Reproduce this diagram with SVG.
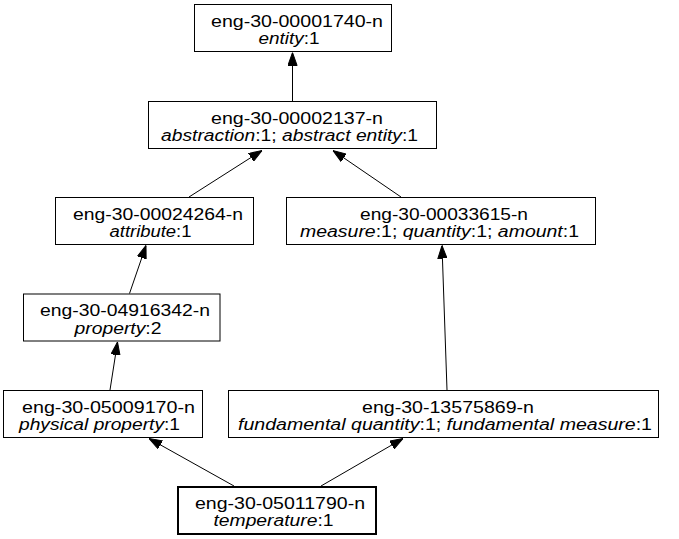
<svg xmlns="http://www.w3.org/2000/svg" width="679" height="539" viewBox="0 0 679 539">
  <style>
    .box { fill: #ffffff; stroke: #000000; stroke-width: 1; }
    .focus { stroke-width: 2; }
    text { font-family: "Liberation Sans", Arial, sans-serif; font-size: 16px; fill: #000000; text-anchor: middle; }
    .it { font-style: italic; }
    .edge { fill: none; stroke: #000000; stroke-width: 1; marker-end: url(#arrow); }
  </style>
  <defs>
    <marker id="arrow" markerUnits="userSpaceOnUse" viewBox="0 0 13 10" refX="13" refY="5" markerWidth="13" markerHeight="10" orient="auto">
      <path d="M0,0.4 L13,5 L0,9.6 Z" fill="#000000" stroke="#000000" stroke-width="1"/>
    </marker>
  </defs>

  <rect width="679" height="539" fill="#ffffff"/>

  <!-- hypernym links: each edge points from a synset to its parent -->
  <g id="edges">
    <path class="edge" d="M292.5,101 L292.5,52.5"/>
    <path class="edge" d="M189,197 L262,150.5"/>
    <path class="edge" d="M401,197 L333,150.5"/>
    <path class="edge" d="M129.5,293.5 L146,245.5"/>
    <path class="edge" d="M110,390 L117.5,342"/>
    <path class="edge" d="M447,390 L442,245.5"/>
    <path class="edge" d="M234,486 L149,438.5"/>
    <path class="edge" d="M321,486 L403,438.5"/>
  </g>

  <g id="n00001740">
    <rect class="box" x="194.5" y="4.5" width="197" height="47"/>
    <text x="297" y="26.5" textLength="172" lengthAdjust="spacingAndGlyphs">eng-30-00001740-n</text>
    <text x="289" y="44" textLength="61" lengthAdjust="spacingAndGlyphs"><tspan class="it">entity</tspan>:1</text>
  </g>

  <g id="n00002137">
    <rect class="box" x="148.5" y="101.5" width="288" height="47"/>
    <text x="297" y="123.5" textLength="172" lengthAdjust="spacingAndGlyphs">eng-30-00002137-n</text>
    <text x="289.5" y="141" textLength="257" lengthAdjust="spacingAndGlyphs"><tspan class="it">abstraction</tspan>:1; <tspan class="it">abstract entity</tspan>:1</text>
  </g>

  <g id="n00024264">
    <rect class="box" x="55.5" y="197.5" width="198" height="47"/>
    <text x="158" y="219.5" textLength="170" lengthAdjust="spacingAndGlyphs">eng-30-00024264-n</text>
    <text x="150.5" y="237" textLength="82" lengthAdjust="spacingAndGlyphs"><tspan class="it">attribute</tspan>:1</text>
  </g>

  <g id="n00033615">
    <rect class="box" x="286.5" y="197.5" width="309" height="47"/>
    <text x="444" y="219.5" textLength="168" lengthAdjust="spacingAndGlyphs">eng-30-00033615-n</text>
    <text x="439.5" y="237" textLength="279" lengthAdjust="spacingAndGlyphs"><tspan class="it">measure</tspan>:1; <tspan class="it">quantity</tspan>:1; <tspan class="it">amount</tspan>:1</text>
  </g>

  <g id="n04916342">
    <rect class="box" x="23.5" y="294" width="196.5" height="47"/>
    <text x="125" y="316" textLength="170" lengthAdjust="spacingAndGlyphs">eng-30-04916342-n</text>
    <text x="118" y="333.5" textLength="87" lengthAdjust="spacingAndGlyphs"><tspan class="it">property</tspan>:2</text>
  </g>

  <g id="n05009170">
    <rect class="box" x="3.5" y="390.5" width="199" height="47"/>
    <text x="108.5" y="412.5" textLength="173" lengthAdjust="spacingAndGlyphs">eng-30-05009170-n</text>
    <text x="99.5" y="430" textLength="161" lengthAdjust="spacingAndGlyphs"><tspan class="it">physical property</tspan>:1</text>
  </g>

  <g id="n13575869">
    <rect class="box" x="228.5" y="390.5" width="430" height="47"/>
    <text x="448" y="412.5" textLength="172" lengthAdjust="spacingAndGlyphs">eng-30-13575869-n</text>
    <text x="445" y="430" textLength="414" lengthAdjust="spacingAndGlyphs"><tspan class="it">fundamental quantity</tspan>:1; <tspan class="it">fundamental measure</tspan>:1</text>
  </g>

  <g id="n05011790">
    <rect class="box focus" x="178" y="487" width="198" height="47"/>
    <text x="280" y="508.5" textLength="170" lengthAdjust="spacingAndGlyphs">eng-30-05011790-n</text>
    <text x="273.5" y="526" textLength="120" lengthAdjust="spacingAndGlyphs"><tspan class="it">temperature</tspan>:1</text>
  </g>
</svg>
